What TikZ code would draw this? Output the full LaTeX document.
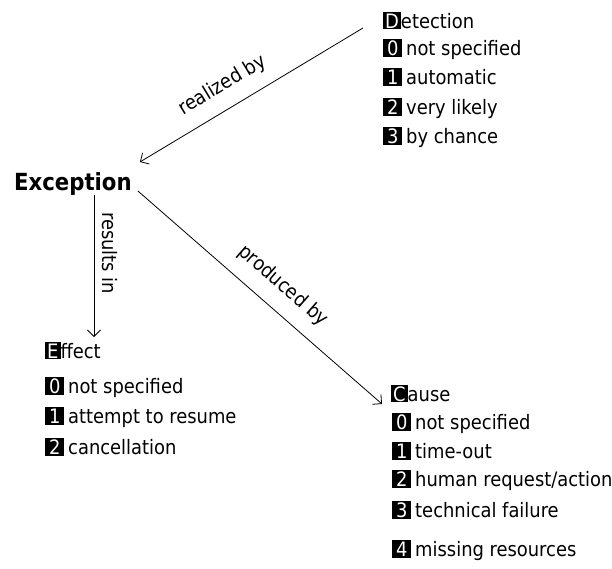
\documentclass[tikz,border=0pt]{standalone}
\usepackage{fontspec}
\setmainfont{DejaVu Sans Condensed}[BoldFont={DejaVu Sans Condensed Bold}]
\usetikzlibrary{arrows.meta}
\newcommand\numbox[1]{{\setlength\fboxsep{0pt}\colorbox{black}{\rule[-1.5pt]{0pt}{18pt}\makebox[19pt]{\textcolor{white}{#1}}}}\hspace{4pt}}
\newcommand\initbox[1]{{\setlength\fboxsep{0pt}\colorbox{black}{\rule[-1pt]{0pt}{17pt}\hspace{2pt}\textcolor{white}{#1}\hspace{2pt}}}}
\begin{document}
\begin{tikzpicture}[x=1pt,y=-1pt,
  item/.style={anchor=base west, inner sep=0pt, font=\fontsize{19.9}{24}\selectfont},
  headnode/.style={anchor=base west, inner sep=0pt, font=\fontsize{23.6}{28}\selectfont\bfseries},
  lbl/.style={font=\fontsize{19.9}{24}\selectfont, sloped, above, inner xsep=0pt},
  conn/.style={draw, line width=0.8pt, -{Straight Barb[length=6.5pt,width=13pt,line width=0.8pt]}}]
\useasboundingbox (0,0) rectangle (612,568);

% Detection
\node[item] (det) at (383,28) {\initbox{D}etection};
\node[item] (d0) at (383,55.5) {\numbox{0}not specified};
\node[item] (d1) at (383,84.8) {\numbox{1}automatic};
\node[item] (d2) at (383,114.1) {\numbox{2}very likely};
\node[item] (d3) at (383,143.4) {\numbox{3}by chance};

% Exception
\node[headnode] (exc) at (14,190) {Exception};

% Effect
\node[item] (eff) at (45,358) {\initbox{E}ffect};
\node[item] (e0) at (45,393.5) {\numbox{0}not specified};
\node[item] (e1) at (45,423.5) {\numbox{1}attempt to resume};
\node[item] (e2) at (45,454) {\numbox{2}cancellation};

% Cause
\node[item] (cau) at (391,401) {\initbox{C}ause};
\node[item] (c0) at (392,429) {\numbox{0}not specified};
\node[item] (c1) at (392,458) {\numbox{1}time-out};
\node[item] (c2) at (392,486.5) {\numbox{2}human request/action};
\node[item] (c3) at (392,517.5) {\numbox{3}technical failure};
\node[item] (c4) at (392,556) {\numbox{4}missing resources};

% connectors
\draw[conn] ([shift={(-20,0)}]det.base west) -- node[lbl, pos=0.575, inner ysep=13pt] {realized by} ([shift={(8,-28)}]exc.base east);
\draw[conn] ([shift={(80,5)}]exc.base west) -- node[lbl, pos=0.41, inner ysep=8pt] {results in} ([shift={(49,-21)}]eff.base west);
\draw[conn] ([shift={(6,1)}]exc.base east) -- node[lbl, pos=0.53, inner ysep=14pt] {produced by} ([shift={(-9,3)}]cau.base west);
\end{tikzpicture}
\end{document}
